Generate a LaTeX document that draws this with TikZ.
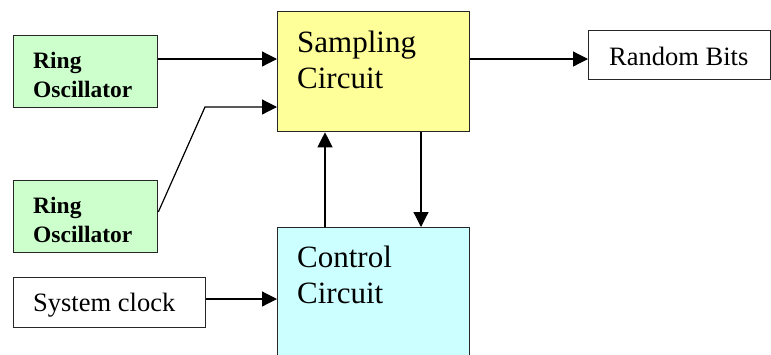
\documentclass[tikz,border=0pt]{standalone}
\usepackage{fontspec}
\setmainfont{Liberation Serif}
\usetikzlibrary{arrows.meta}
\definecolor{sampfill}{HTML}{FFFF99}
\definecolor{ctrlfill}{HTML}{CCFFFF}
\definecolor{ringfill}{HTML}{CCFFCC}
\begin{document}
\begin{tikzpicture}[x=1pt,y=-1pt,
  box/.style={draw=black!85, line width=1.3pt, anchor=north west, inner sep=0pt},
  conn/.style={line width=1.2pt, -{Triangle[length=15pt,width=15pt]}},
  bigtxt/.style={anchor=base west, inner sep=0pt, font=\fontsize{31}{36}\selectfont},
  ringtxt/.style={anchor=base west, inner sep=0pt, font=\fontsize{23.5}{29}\selectfont\bfseries},
  midtxt/.style={anchor=base west, inner sep=0pt, font=\fontsize{26.5}{32}\selectfont}]
\clip (0,0) rectangle (771,354);
\fill[white] (0,0) rectangle (771,354);
% boxes
\node[box, fill=ringfill, minimum width=144pt, minimum height=72pt] (ro1) at (13,35) {};
\node[box, fill=ringfill, minimum width=144pt, minimum height=72pt] (ro2) at (13,180) {};
\node[box, fill=white, minimum width=192pt, minimum height=50pt] (clk) at (13,277) {};
\node[box, fill=sampfill, minimum width=192pt, minimum height=120pt] (samp) at (277,11) {};
\node[box, fill=ctrlfill, minimum width=192pt, minimum height=160pt] (ctrl) at (277,227) {};
\node[box, fill=white, minimum width=182pt, minimum height=49pt] (bits) at (588,30) {};
% texts
\node[ringtxt] (ro1a) at (33,68) {Ring};
\node[ringtxt] (ro1b) at (33,97) {Oscillator};
\node[ringtxt] (ro2a) at (33,213) {Ring};
\node[ringtxt] (ro2b) at (33,242) {Oscillator};
\node[midtxt] (clkt) at (33,311) {System clock};
\node[midtxt] (bitst) at (609,65) {Random Bits};
\node[bigtxt] (sampa) at (297,52) {Sampling};
\node[bigtxt] (sampb) at (297,88) {Circuit};
\node[bigtxt] (ctrla) at (297,267) {Control};
\node[bigtxt] (ctrlb) at (297,303) {Circuit};
% connectors
\coordinate (bend) at (205,107);
\draw[conn] (ro1.east |- 0,59) -- (samp.west |- 0,59);
\draw[conn] (ro2.east |- 0,212) -- (bend) -- (samp.west |- bend);
\draw[conn] (samp.east |- 0,59) -- (bits.west |- 0,59);
\draw[conn] (clk.east |- 0,299) -- (ctrl.west |- 0,299);
\draw[conn] (ctrl.north -| 325,0) -- (samp.south -| 325,0);
\draw[conn] (samp.south -| 421,0) -- (ctrl.north -| 421,0);
\end{tikzpicture}
\end{document}
